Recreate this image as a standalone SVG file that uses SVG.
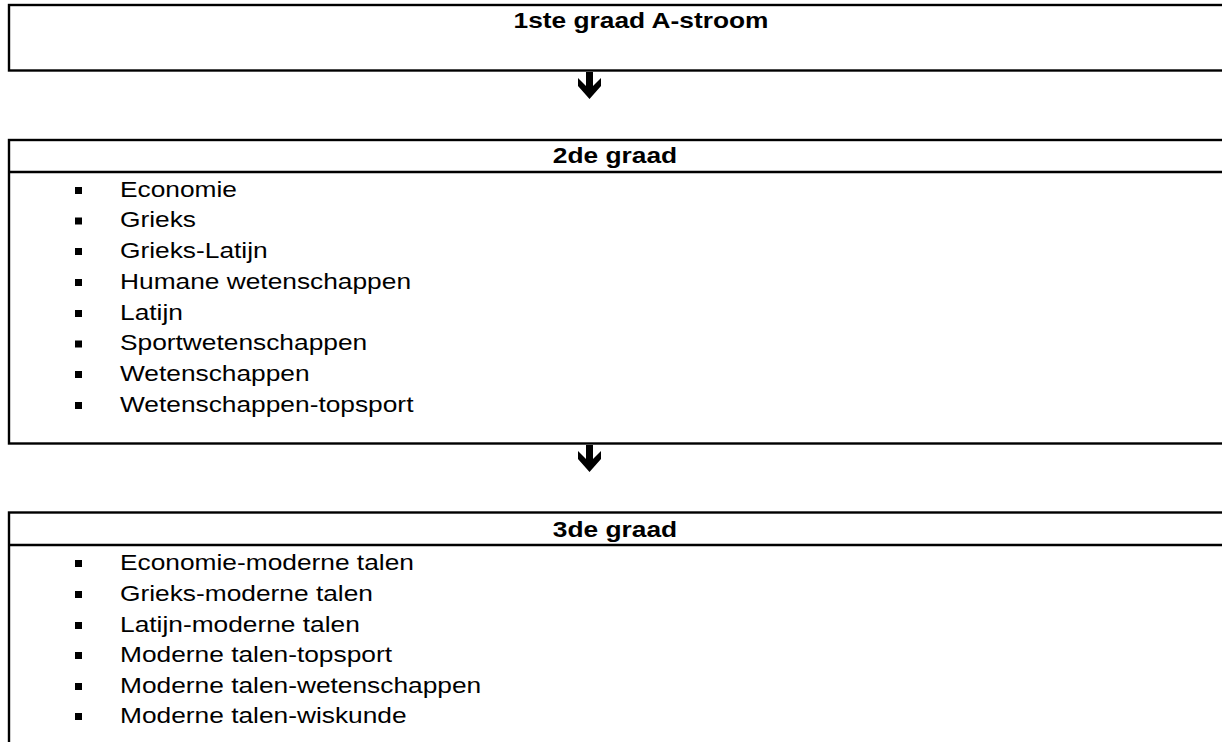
<svg xmlns="http://www.w3.org/2000/svg" width="1222" height="742" viewBox="0 0 1222 742">
<style>
.box{fill:none;stroke:#000;stroke-width:2.4}
.div{stroke:#000;stroke-width:2.4}
.hd{font-family:"Liberation Sans",Arial,sans-serif;font-weight:bold;font-size:22.5px;fill:#000;text-anchor:middle}
.it{font-family:"Liberation Sans",Arial,sans-serif;font-size:22.5px;fill:#000}
.bul{fill:#000}
.arr{fill:#000}
</style>
<rect width="1222" height="742" fill="#fff"/>
<g id="node-1ste-graad">
  <rect class="box" x="9" y="5" width="1260" height="65.5"/>
  <g transform="translate(641,0) scale(1.17,1)"><text class="hd" x="0" y="28.5">1ste graad A-stroom</text></g>
</g>
<g id="node-2de-graad">
  <rect class="box" x="9" y="140" width="1230" height="303.5"/>
  <line class="div" x1="9" y1="172" x2="1240" y2="172"/>
  <g transform="translate(615,0) scale(1.17,1)"><text class="hd" x="0" y="163">2de graad</text></g>
  <g class="bul">
    <rect x="75" y="187" width="7" height="7"/>
    <rect x="75" y="217.5" width="7" height="7"/>
    <rect x="75" y="248" width="7" height="7"/>
    <rect x="75" y="279" width="7" height="7"/>
    <rect x="75" y="310" width="7" height="7"/>
    <rect x="75" y="340.5" width="7" height="7"/>
    <rect x="75" y="371" width="7" height="7"/>
    <rect x="75" y="402" width="7" height="7"/>
  </g>
  <g transform="translate(120,0) scale(1.17,1)">
    <text class="it" x="0" y="197">Economie</text>
    <text class="it" x="0" y="227.5">Grieks</text>
    <text class="it" x="0" y="258">Grieks-Latijn</text>
    <text class="it" x="0" y="289">Humane wetenschappen</text>
    <text class="it" x="0" y="320">Latijn</text>
    <text class="it" x="0" y="350.5">Sportwetenschappen</text>
    <text class="it" x="0" y="381">Wetenschappen</text>
    <text class="it" x="0" y="412">Wetenschappen-topsport</text>
  </g>
</g>
<g id="node-3de-graad">
  <rect class="box" x="9" y="512.5" width="1230" height="260"/>
  <line class="div" x1="9" y1="545" x2="1240" y2="545"/>
  <g transform="translate(615,0) scale(1.17,1)"><text class="hd" x="0" y="537">3de graad</text></g>
  <g class="bul">
    <rect x="75" y="560" width="7" height="7"/>
    <rect x="75" y="591" width="7" height="7"/>
    <rect x="75" y="622" width="7" height="7"/>
    <rect x="75" y="652" width="7" height="7"/>
    <rect x="75" y="683" width="7" height="7"/>
    <rect x="75" y="713" width="7" height="7"/>
  </g>
  <g transform="translate(120,0) scale(1.17,1)">
    <text class="it" x="0" y="570">Economie-moderne talen</text>
    <text class="it" x="0" y="601">Grieks-moderne talen</text>
    <text class="it" x="0" y="632">Latijn-moderne talen</text>
    <text class="it" x="0" y="662">Moderne talen-topsport</text>
    <text class="it" x="0" y="693">Moderne talen-wetenschappen</text>
    <text class="it" x="0" y="723">Moderne talen-wiskunde</text>
  </g>
</g>
<g id="connectors">
  <polygon class="arr" points="586,72 593,72 593,86 601,78 601,86 589.5,99 578,86 578,78 586,86"/>
  <polygon class="arr" points="586,445 593,445 593,459 601,451 601,459 589.5,472 578,459 578,451 586,459"/>
</g>
</svg>
